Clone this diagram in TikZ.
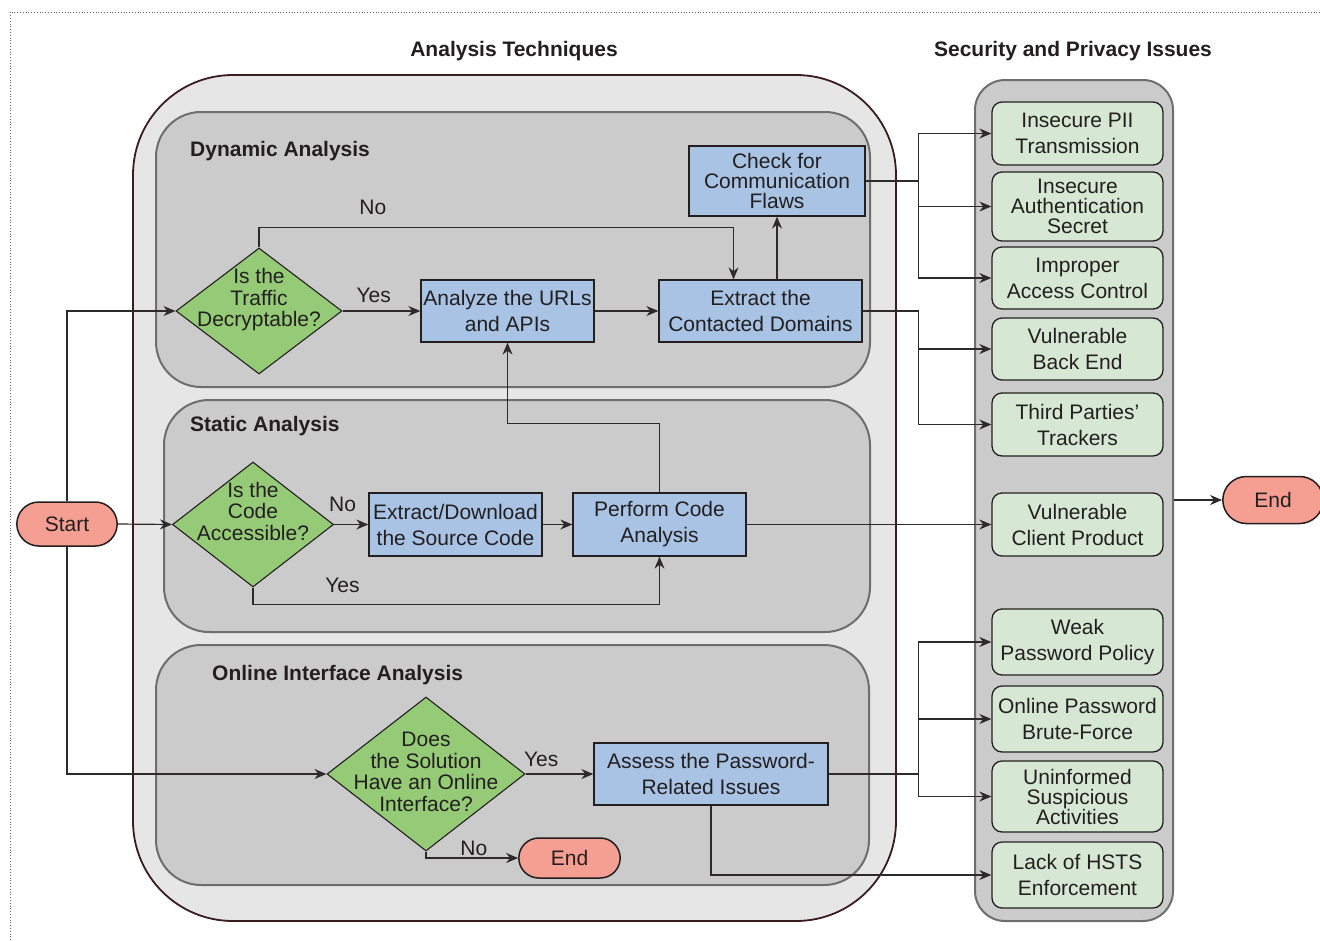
\documentclass[tikz,border=0pt]{standalone}
\usepackage{fontspec}
\setmainfont{Liberation Sans}
\usetikzlibrary{arrows.meta, positioning, calc, shapes.geometric, shapes.misc}
\definecolor{txc}{HTML}{231F20}
\definecolor{lnc}{HTML}{2E2A2B}
\definecolor{outc}{HTML}{E6E6E6}
\definecolor{outd}{HTML}{3A1C1E}
\definecolor{pnc}{HTML}{CBCBCB}
\definecolor{pnd}{HTML}{6E6E6E}
\definecolor{grc}{HTML}{D6E8D3}
\definecolor{dgc}{HTML}{95CB77}
\definecolor{blc}{HTML}{A8C3E4}
\definecolor{tmc}{HTML}{F59E92}
% text of a decision diamond, kept from resizing the shape
\newcommand{\dtext}[2][0pt]{\smash{\makebox[0pt]{\raisebox{#1}{\fontsize{21}{20.8}\selectfont
  \begin{tabular}{@{}c@{}}#2\end{tabular}}}}}

\begin{document}
\begin{tikzpicture}[x=1pt, y=-1pt, >={Stealth[length=12pt, width=10pt]},
      font=\fontsize{21}{26}\selectfont, every node/.style={text=txc},
      pnl/.style={draw=pnd, fill=pnc, line width=2pt},
      blk/.style={rectangle, draw=txc, fill=blc, line width=1.3pt,
        align=center, inner sep=0pt},
      iss/.style={rectangle, rounded corners=10pt, draw=txc, fill=grc,
        line width=1.3pt, align=center, inner sep=1pt, minimum width=171pt},
      dec/.style={diamond, draw=txc, fill=dgc, line width=1.1pt, inner sep=0pt},
      term/.style={rounded rectangle, draw=txc, fill=tmc, line width=1.5pt},
      ttl/.style={font=\fontsize{21}{26}\selectfont\bfseries, inner sep=0pt},
      lbl/.style={inner sep=2pt},
      con/.style={draw=lnc, line width=1.2pt}]
    \useasboundingbox (0,0) rectangle (1320,940);
    \draw[dotted, black!60, line width=0.8pt] (10,940) -- (10,12) -- (1320,12);

    % containers
    \node[pnl, draw=outd, fill=outc, line width=1.8pt, rounded corners=100pt,
          minimum width=763pt, minimum height=846pt] (tech) at (514.5,498) {};
    \node[pnl, rounded corners=45pt, minimum width=714pt, minimum height=275pt]
          (dyn) at (513,249.5) {};
    \node[pnl, rounded corners=45pt, minimum width=706pt, minimum height=232pt]
          (sta) at (517,516) {};
    \node[pnl, rounded corners=45pt, minimum width=713pt, minimum height=240pt]
          (onl) at (512.5,765) {};
    \node[pnl, rounded corners=30pt, minimum width=198pt, minimum height=841pt]
          (issues) at (1074,500.5) {};

    \node[ttl] (ttech) at (514,51) {Analysis Techniques};
    \node[ttl] (tiss) at (1073,51) {Security and Privacy Issues};
    \node[ttl, anchor=west] (tdyn) at (190,151) {Dynamic Analysis};
    \node[ttl, anchor=west] (tsta) at (190,426) {Static Analysis};
    \node[ttl, anchor=west] (tonl) at (212,675) {Online Interface Analysis};

    % issues
    \foreach \n/\y/\h/\t in {
        g1/133.5/63/{Insecure PII\\Transmission},
        g2/206.5/69/{Insecure\\[-6pt]Authentication\\[-6pt]Secret},
        g3/278/62/{Improper\\Access Control},
        g4/349/62/{Vulnerable\\Back End},
        g5/424.5/63/{Third Parties'\\Trackers},
        g6/524.5/63/{Vulnerable\\Client Product},
        g7/642/66/{Weak\\Password Policy},
        g8/719/66/{Online Password\\Brute-Force},
        g9/796.5/71/{Uninformed\\[-6pt]Suspicious\\[-6pt]Activities},
        g10/875/66/{Lack of HSTS\\Enforcement}}{
      \node[iss, minimum height=\h] (\n) at (1077.5,\y) {\t};
    }

    % flow
    \node[term, minimum width=107pt, minimum height=44pt] (start) at (67,524) {Start};
    \node[term, minimum width=108pt, minimum height=40pt] (end1) at (569.5,858) {End};
    \node[term, minimum width=107pt, minimum height=47pt] (end2) at (1273,500) {End};

    \node[dec, minimum width=166pt, minimum height=126pt] (d1) at (259,311)
          {\dtext[5pt]{Is the\\Traffic\\Decryptable?}};
    \node[dec, minimum width=161pt, minimum height=125pt] (d2) at (253,524.5)
          {\dtext[5pt]{Is the\\Code\\Accessible?}};
    \node[dec, minimum width=198pt, minimum height=154pt] (d3) at (426,774)
          {\dtext[-6pt]{Does\\the Solution\\Have an Online\\Interface?}};

    \node[blk, minimum width=173pt, minimum height=62pt] (b1) at (507.5,311)
          {Analyze the URLs\\and APIs};
    \node[blk, minimum width=203pt, minimum height=62pt] (b2) at (760.5,311)
          {Extract the\\Contacted Domains};
    \node[blk, minimum width=176pt, minimum height=70pt] (b3) at (777,181)
          {Check for\\[-6pt]Communication\\[-6pt]Flaws};
    \node[blk, minimum width=173pt, minimum height=63pt] (b4) at (455.5,524.5)
          {Extract/Download\\the Source Code};
    \node[blk, minimum width=173pt, minimum height=63pt] (b5) at (659.5,524.5)
          {Perform Code\\Analysis};
    \node[blk, minimum width=234pt, minimum height=62pt] (b6) at (711,774)
          {Assess the Password-\\Related Issues};

    \draw[con, ->] (start.east) -- (d2.west);
    \draw[con, ->] (start.north) |- (d1.west);
    \draw[con, ->] (start.south) |- (d3.west);
    \draw[con, ->] (d1.east) -- node[lbl, pos=0.4, above=6pt] (ly1) {Yes} (b1.west);
    \draw[con, ->] (d1.north) -- ++(0,-20) -| node[lbl, pos=0.12, above=10pt] (ln1) {No}
          ([xshift=-27pt]b2.north);
    \draw[con, ->] (b1.east) -- (b2.west);
    \draw[con, ->] (b3.south |- b2.north) -- (b3.south);
    \draw[con, ->] (b5.north) -- ++(0,-69) -| (b1.south);
    \draw[con, ->] (d2.east) -- node[lbl, pos=0.25, above=10pt] (ln2) {No} (b4.west);
    \draw[con, ->] (d2.south) -- ++(0,17) -| node[lbl, pos=0.11, above=9pt] (ly2) {Yes}
          (b5.south);
    \draw[con, ->] (b4.east) -- (b5.west);
    \draw[con, ->] (b5.east) -- (g6.west);
    \draw[con, ->] (d3.east) -- node[lbl, pos=0.23, above=5pt] (ly3) {Yes} (b6.west);
    \draw[con, ->] (d3.south) |- node[lbl, pos=0.76, above=0pt] (ln3) {No} (end1.west);

    \foreach \g in {g1,g2,g3}
      \draw[con, ->] (b3.east) -- ++(53,0) |- (\g.west);
    \foreach \g in {g4,g5}
      \draw[con, ->] (b2.east) -- ++(56,0) |- (\g.west);
    \foreach \g in {g7,g8,g9}
      \draw[con, ->] (b6.east) -- ++(90,0) |- (\g.west);
    \draw[con, ->] (b6.south) |- (g10.west);
    \draw[con, ->] (issues.east |- end2.west) -- (end2.west);
  \end{tikzpicture}
\end{document}
